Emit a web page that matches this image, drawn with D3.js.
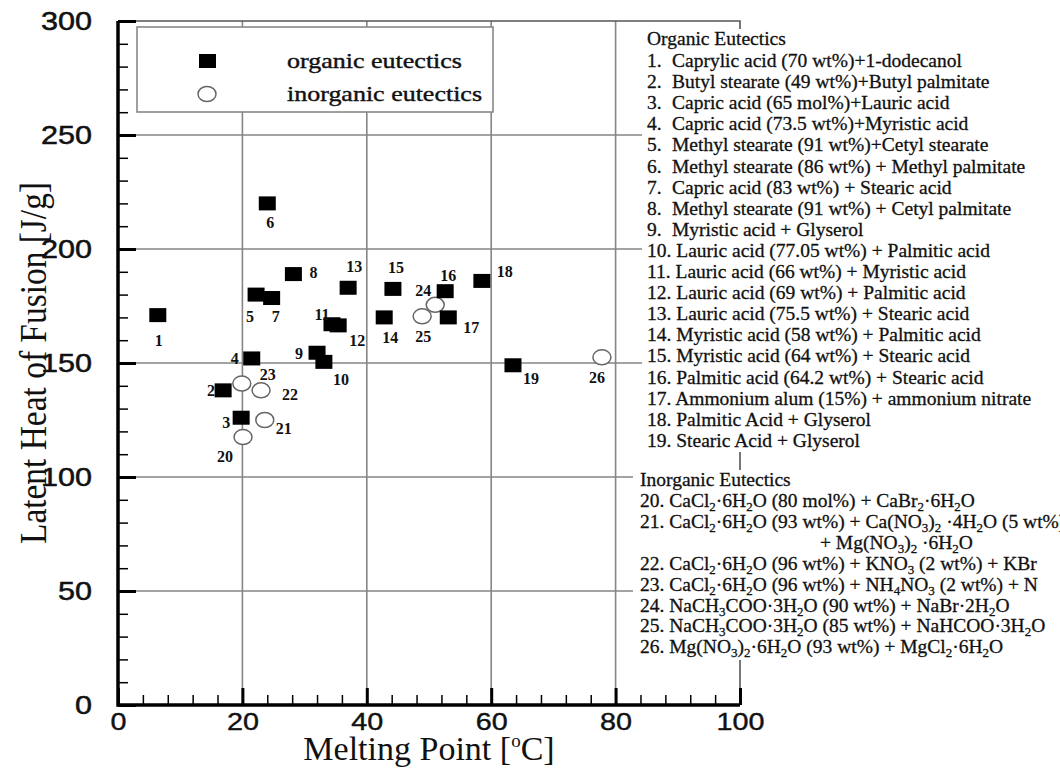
<!DOCTYPE html>
<meta charset="utf-8">
<script src="https://d3js.org/d3.v7.min.js"></script>
<style>
  body { margin: 0; background: #fff; }
  .serif { font-family: "Liberation Serif", "Times New Roman", serif; }
  .sans { font-family: "Liberation Sans", Arial, sans-serif; }
</style>
<svg></svg>
<script>

// DATA

var ids = [1, 2, 3, 4, 5, 6, 7, 8, 9, 10, 11, 12, 13, 14, 15, 16, 17, 18, 19,
           20, 21, 22, 23, 24, 25, 26];
var meltingPoint = [6.4, 16.9, 19.8, 21.5, 22.2, 24.0, 24.7, 28.2, 32.0, 33.1, 34.4, 35.4, 37.0,
                    42.8, 44.2, 52.6, 53.1, 58.5, 63.5,
                    20.1, 23.6, 23.0, 19.9, 51.0, 48.9, 77.8];
var latentHeat = [171, 138, 126, 152, 180, 220, 178.5, 189, 154.5, 150.5, 167, 166.5, 183,
                  170, 182.5, 181.5, 170, 186, 149,
                  117.5, 125, 138, 141, 175.5, 170.5, 152.5];
var kind = ids.map(function(d) { return d <= 19 ? "organic" : "inorganic"; });

var xTicks = [0, 20, 40, 60, 80, 100];
var yTicks = [0, 50, 100, 150, 200, 250, 300];

var organicNames = [
  "Caprylic acid (70 wt%)+1-dodecanol",
  "Butyl stearate (49 wt%)+Butyl palmitate",
  "Capric acid (65 mol%)+Lauric acid",
  "Capric acid (73.5 wt%)+Myristic acid",
  "Methyl stearate (91 wt%)+Cetyl stearate",
  "Methyl stearate (86 wt%) + Methyl palmitate",
  "Capric acid (83 wt%) + Stearic acid",
  "Methyl stearate (91 wt%) + Cetyl palmitate",
  "Myristic acid + Glyserol",
  "Lauric acid (77.05 wt%) + Palmitic acid",
  "Lauric acid (66 wt%) + Myristic acid",
  "Lauric acid (69 wt%) + Palmitic acid",
  "Lauric acid (75.5 wt%) + Stearic acid",
  "Myristic acid (58 wt%) + Palmitic acid",
  "Myristic acid (64 wt%) + Stearic acid",
  "Palmitic acid (64.2 wt%) + Stearic acid",
  "Ammonium alum (15%) + ammonium nitrate",
  "Palmitic Acid + Glyserol",
  "Stearic Acid + Glyserol"
];

// "_x" marks a subscript character
var inorganicLines = [
  "20. CaCl_2·6H_2O (80 mol%) + CaBr_2·6H_2O",
  "21. CaCl_2·6H_2O (93 wt%) + Ca(NO_3)_2 ·4H_2O (5 wt%)",
  "+ Mg(NO_3)_2 ·6H_2O",
  "22. CaCl_2·6H_2O (96 wt%) + KNO_3 (2 wt%) + KBr",
  "23. CaCl_2·6H_2O (96 wt%) + NH_4NO_3 (2 wt%) +  N",
  "24. NaCH_3COO·3H_2O (90 wt%) + NaBr·2H_2O",
  "25. NaCH_3COO·3H_2O (85 wt%) + NaHCOO·3H_2O",
  "26. Mg(NO_3)_2·6H_2O (93 wt%) + MgCl_2·6H_2O"
];

// label offsets from marker centre (layout)
var labelDx = [1, -12, -15, -17, -6, 3, 4, 20, -18, 17, -10, 19, 6, 6, 3, 3, 23, 23, 18,
               -18, 19, 29, 26, -12, 1, -5];
var labelDy = [25, 0, 4, 0, 21, 19, 18, -2, 0, 17, -10, 15, -22, 20, -22, -16, 10, -10, 13,
               19, 8, 4, -10, -15, 20, 20];

var width = 1060;
var height = 768;

var svg = d3.select("svg")
    .attr("width", width)
    .attr("height", height);

var x = d3.scaleLinear().domain([0, 100]).range([118, 740]);
var y = d3.scaleLinear().domain([0, 300]).range([705, 21]);

var gridColor = "#858585";

// GRID

svg.append("g").selectAll("line")
    .data([20, 40, 60, 80])
    .enter().append("line")
      .attr("x1", function(d) { return x(d); })
      .attr("x2", function(d) { return x(d); })
      .attr("y1", y(0)).attr("y2", y(300))
      .attr("stroke", gridColor).attr("stroke-width", 1.6);

svg.append("g").selectAll("line")
    .data([50, 100, 150, 200, 250])
    .enter().append("line")
      .attr("y1", function(d) { return y(d); })
      .attr("y2", function(d) { return y(d); })
      .attr("x1", x(0)).attr("x2", x(100))
      .attr("stroke", gridColor).attr("stroke-width", 1.6);

// frame (top / right)
svg.append("path")
    .attr("d", "M" + x(0) + "," + y(300) + "H" + x(100) + "V" + y(0))
    .attr("fill", "none")
    .attr("stroke", "#555")
    .attr("stroke-width", 1.6);

// LEGEND BOX

var lg = svg.append("g");
lg.append("rect")
    .attr("x", 137).attr("y", 27).attr("width", 356).attr("height", 85)
    .attr("fill", "#fff").attr("stroke", "#888").attr("stroke-width", 1.6);
lg.append("rect")
    .attr("x", 199).attr("y", 54).attr("width", 17).attr("height", 14)
    .attr("fill", "#000");
lg.append("ellipse")
    .attr("cx", 207).attr("cy", 94).attr("rx", 9).attr("ry", 7.5)
    .attr("fill", "#fff").attr("stroke", "#666").attr("stroke-width", 1.5);
lg.append("text").attr("class", "serif")
    .attr("x", 287).attr("y", 68)
    .style("font-size", "22px").style("fill", "#111")
    .style("stroke", "#111").style("stroke-width", 0.4)
    .attr("textLength", 175).attr("lengthAdjust", "spacingAndGlyphs")
    .text("organic eutectics");
lg.append("text").attr("class", "serif")
    .attr("x", 287).attr("y", 101)
    .style("font-size", "22px").style("fill", "#111")
    .style("stroke", "#111").style("stroke-width", 0.4)
    .attr("textLength", 195).attr("lengthAdjust", "spacingAndGlyphs")
    .text("inorganic eutectics");

// POINTS

var pts = ids.map(function(d, i) {
  return { id: d, mp: meltingPoint[i], lh: latentHeat[i], kind: kind[i],
           dx: labelDx[i], dy: labelDy[i] };
});

svg.append("g").selectAll("ellipse")
    .data(pts.filter(function(d) { return d.kind === "inorganic"; }))
    .enter().append("ellipse")
      .attr("cx", function(d) { return x(d.mp); })
      .attr("cy", function(d) { return y(d.lh); })
      .attr("rx", 9).attr("ry", 7.5)
      .attr("fill", "#fff").attr("stroke", "#666").attr("stroke-width", 1.5);

svg.append("g").selectAll("rect")
    .data(pts.filter(function(d) { return d.kind === "organic"; }))
    .enter().append("rect")
      .attr("x", function(d) { return x(d.mp) - 8.5; })
      .attr("y", function(d) { return y(d.lh) - 7; })
      .attr("width", 17).attr("height", 14)
      .attr("fill", "#000");

svg.append("g").selectAll("text")
    .data(pts)
    .enter().append("text")
      .attr("class", "serif")
      .attr("x", function(d) { return x(d.mp) + d.dx; })
      .attr("y", function(d) { return y(d.lh) + d.dy + 6; })
      .attr("text-anchor", "middle")
      .style("font-size", "16px").style("font-weight", "bold").style("fill", "#111")
      .text(function(d) { return d.id; });

// RIGHT-HAND LIST

svg.append("rect").attr("x", 642).attr("y", 29).attr("width", 420).attr("height", 423)
    .attr("fill", "#fff");
svg.append("rect").attr("x", 633).attr("y", 470).attr("width", 430).attr("height", 190)
    .attr("fill", "#fff");

function addRich(sel, str) {
  var parts = str.split(/(_.)/).filter(function(p) { return p; });
  var shift = 0;
  parts.forEach(function(p) {
    if (p[0] === "_") {
      sel.append("tspan").attr("dy", 4 - shift).style("font-size", "13px").text(p[1]);
      shift = 4;
    } else {
      sel.append("tspan").attr("dy", -shift).text(p);
      shift = 0;
    }
  });
}

var list = svg.append("g").attr("class", "serif")
    .style("font-size", "19.5px").style("fill", "#111")
    .style("stroke", "#111").style("stroke-width", 0.3);

list.append("text").attr("x", 647).attr("y", 45).text("Organic Eutectics");

organicNames.forEach(function(name, i) {
  var yy = 67 + i * 21.1;
  if (i < 9) {
    list.append("text").attr("x", 647).attr("y", yy).text((i + 1) + ".");
    list.append("text").attr("x", 672).attr("y", yy).text(name);
  } else {
    list.append("text").attr("x", 647).attr("y", yy).text((i + 1) + ". " + name);
  }
});

list.append("text").attr("x", 640).attr("y", 486).text("Inorganic Eutectics");

inorganicLines.forEach(function(line, i) {
  var t = list.append("text")
      .attr("x", line[0] === "+" ? 820 : 640)
      .attr("y", 507 + i * 20.9);
  addRich(t, line);
});

// AXES

var axisY = d3.axisLeft(y).tickValues(yTicks).tickSizeInner(-18).tickSizeOuter(0).tickPadding(26);
var gy = svg.append("g").attr("transform", "translate(" + x(0) + ",0)").call(axisY);
gy.select(".domain").remove();
gy.selectAll(".tick line").attr("stroke", "#000").attr("stroke-width", 3);
gy.selectAll("text").attr("class", "sans")
    .style("font-size", "25px").style("fill", "#111")
    .style("stroke", "#111").style("stroke-width", 0.5)
    .attr("textLength", function(d) { return String(d).length * 17; })
    .attr("lengthAdjust", "spacingAndGlyphs");

var axisYm = d3.axisLeft(y).tickValues(d3.range(10, 300, 10).filter(function(d) { return d % 50; }))
    .tickSizeInner(-10).tickSizeOuter(0).tickFormat("");
var gym = svg.append("g").attr("transform", "translate(" + x(0) + ",0)").call(axisYm);
gym.select(".domain").remove();
gym.selectAll(".tick line").attr("stroke", "#000").attr("stroke-width", 1.5);

var axisX = d3.axisBottom(x).tickValues(xTicks).tickSizeInner(-17).tickSizeOuter(0).tickPadding(8);
var gx = svg.append("g").attr("transform", "translate(0," + y(0) + ")").call(axisX);
gx.select(".domain").remove();
gx.selectAll(".tick line").attr("stroke", "#000").attr("stroke-width", 3);
gx.selectAll("text").attr("class", "sans")
    .style("font-size", "24px").style("fill", "#111")
    .style("stroke", "#111").style("stroke-width", 0.4)
    .attr("textLength", function(d) { return String(d).length * 16; })
    .attr("lengthAdjust", "spacingAndGlyphs");

var axisXm = d3.axisBottom(x).tickValues(d3.range(4, 100, 4).filter(function(d) { return d % 20; }))
    .tickSizeInner(-10).tickSizeOuter(0).tickFormat("");
var gxm = svg.append("g").attr("transform", "translate(0," + y(0) + ")").call(axisXm);
gxm.select(".domain").remove();
gxm.selectAll(".tick line").attr("stroke", "#000").attr("stroke-width", 1.5);

// thick axis lines
svg.append("path")
    .attr("d", "M" + x(0) + "," + y(300) + "V" + y(0) + "H" + x(100))
    .attr("fill", "none").attr("stroke", "#000").attr("stroke-width", 3.5);

// TITLES

var xt = svg.append("text").attr("class", "serif")
    .attr("x", 429).attr("y", 760)
    .attr("text-anchor", "middle")
    .style("font-size", "34px").style("fill", "#111");
xt.append("tspan").text("Melting Point [");
xt.append("tspan").attr("dy", -13).style("font-size", "19px").text("o");
xt.append("tspan").attr("dy", 13).text("C]");

svg.append("text").attr("class", "serif")
    .attr("transform", "translate(46,363) rotate(-90)")
    .attr("text-anchor", "middle")
    .style("font-size", "37px").style("fill", "#111")
    .attr("textLength", 362).attr("lengthAdjust", "spacingAndGlyphs")
    .text("Latent Heat of Fusion [J/g]");

</script>
